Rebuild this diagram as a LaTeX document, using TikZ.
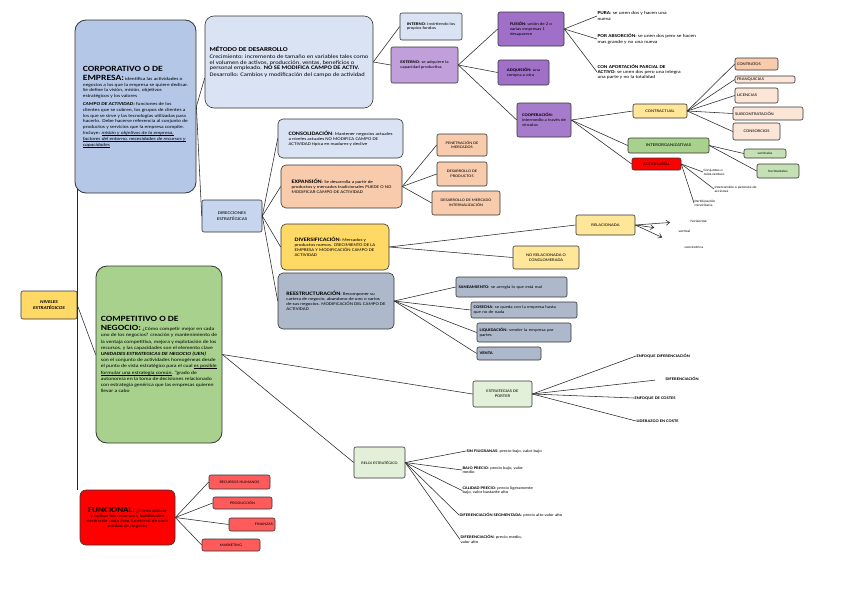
\documentclass[tikz,border=0pt]{standalone}
\usepackage{fontspec}
\setmainfont{Carlito}[FakeStretch=1.2]
\usetikzlibrary{arrows.meta,calc}
\definecolor{cBlue}{HTML}{B4C7E7}
\definecolor{cBlueL}{HTML}{DAE3F3}
\definecolor{cBlueM}{HTML}{C7D5EE}
\definecolor{cPurL}{HTML}{C19FDB}
\definecolor{cPur}{HTML}{A070C8}
\definecolor{cPurM}{HTML}{A77BCC}
\definecolor{cGold}{HTML}{FFD966}
\definecolor{cYel}{HTML}{FFE699}
\definecolor{cPeach}{HTML}{F8CBAD}
\definecolor{cPeachL}{HTML}{FBE5D6}
\definecolor{cGreen}{HTML}{A9D18E}
\definecolor{cGreenL}{HTML}{C5E0B4}
\definecolor{cGreenXL}{HTML}{E2F0D9}
\definecolor{cGray}{HTML}{ADB9CA}
\definecolor{cRed}{HTML}{FF0000}
\definecolor{cRedL}{HTML}{FF5B5B}
\newcommand\fz[2]{\fontsize{#1}{#2}\selectfont}
\newcommand\bighd[1]{{\fz{8}{9}\bfseries #1}}
\newcommand\ulx[1]{\setbox0=\hbox{#1}\rlap{\rule[-0.8pt]{\wd0}{0.35pt}}\box0}
\newcommand\mkbox[7]{%
  \node[bx,#6,minimum width={(#4-#2)*1pt},minimum height={(#5-#3)*1pt}] (#1) at ({(#2+#4)/2},{(#3+#5)/2}) {#7};}
\tikzset{
  bx/.style={draw=black!80, line width=0.6pt, rounded corners=2pt, inner sep=1pt, align=left, font=\fz{4}{4.8}},
  big/.style={rounded corners=11pt, line width=0.8pt},
  ln/.style={draw=black!85, line width=0.55pt},
  lbl/.style={anchor=west, inner sep=0.3pt, align=left, font=\fz{4}{4.8}},
  arr/.style={ln, -{Straight Barb[length=3.5pt,width=5pt]}},
}
\begin{document}
\begin{tikzpicture}[x=1pt,y=-1pt]
\useasboundingbox (0,0) rectangle (848,600);
\fill[white] (0,0) rectangle (848,600);

% ---------- level boxes ----------
\mkbox{niv}{21}{291}{77}{319}{fill=cGold, align=center, font=\fz{4.4}{5.4}\bfseries\itshape}{NIVELES\\ESTRATÉGICOS}

\mkbox{corp}{75}{20}{196}{193}{big, fill=cBlue, font=\fz{4.5}{5.8}}{%
\bighd{CORPORATIVO O DE}\\[3.2pt]
\bighd{EMPRESA:} identifica las actividades o\\
negocios a los que la empresa se quiere dedicar.\\
Se define la visión, misión, objetivos\\
estratégicos y los valores\\[2pt]
\textbf{\textit{CAMPO DE ACTIVIDAD:}} funciones de los\\
clientes que se cubren, los grupos de clientes a\\
los que se sirve y las tecnologías utilizadas para\\
hacerlo. Debe hacerse referencia al conjunto de\\
productos y servicios que la empresa compite.\\
Incluye: \ulx{\textit{misión y objetivos de la empresa,}}\\
\ulx{\textit{factores del entorno, necesidades de recursos y}}\\
\ulx{\textit{capacidades}}}

\mkbox{comp}{96}{266}{222}{443}{big, fill=cGreen, font=\fz{4.7}{6.2}}{%
\bighd{COMPETITIVO O DE}\\[3pt]
\bighd{NEGOCIO:} ¿Cómo competir mejor en cada\\
uno de los negocios? creación y mantenimiento de\\
la ventaja competitiva, mejora y explotación de los\\
recursos, y las capacidades son el elemento clave\\
\textbf{\textit{UNIDADES ESTRATEGICAS DE NEGOCIO (UEN)}}\\
son el conjunto de actividades homogéneas desde\\
el punto de vista estratégico para el cual \ulx{es posible}\\
\ulx{formular una estrategia común}. "grado de\\
autonomía en la toma de decisiones relacionado\\
con estrategia genérica que las empresas quieren\\
llevar a cabo}

\mkbox{fun}{80}{490}{175}{545}{rounded corners=6pt, fill=cRed, align=center, font=\fz{4.4}{5}}{%
{\fz{7.5}{8}\bfseries FUNCIONAL:} ¿Cómo utilizar\\
y aplicar los recursos y habilidades\\
dentro de cada área funcional de cada\\
unidad de negocio}

% ---------- corporate branch ----------
\mkbox{met}{205}{16}{373}{108}{rounded corners=9pt, fill=cBlueL, font=\fz{5.4}{5.9}}{%
{\fz{6}{8}\bfseries MÉTODO DE DESARROLLO}\\[1pt]
Crecimiento: incremento de tamaño en variables tales como\\
el volumen de activos, producción, ventas, beneficios o\\
personal empleado. \textbf{NO SE MODIFICA CAMPO DE ACTIV.}\\[1pt]
Desarrollo: Cambios y modificación del campo de actividad}

\mkbox{int}{400}{13}{462}{40}{fill=cBlueL}{\textbf{INTERNO}: invirtiendo los\\propios fondos}
\mkbox{ext}{391}{47}{458}{83}{fill=cPurL}{\textbf{EXTERNO}: se adquiere la\\capacidad productiva}
\mkbox{fus}{498}{12}{564}{46}{fill=cPur}{\textbf{FUSIÓN}: unión de 2 o\\varias empresas 1\\desaparece}
\mkbox{adq}{498}{60}{549}{85}{fill=cPur}{\textbf{ADQUISIÓN}: una\\compra a otra}
\mkbox{coop}{517}{103}{571}{137}{fill=cPurM}{\textbf{COOPERACIÓN}:\\intermedio a través de\\vínculos}

\node[lbl, font=\fz{4.5}{5.2}] (pura) at (597,16) {\textbf{PURA}: se unen dos y hacen una\\nueva};
\node[lbl, font=\fz{4.5}{5.2}] (abs) at (597,39) {\textbf{POR ABSORCIÓN}: se unen dos pero se hacen\\mas grande y no una nueva};
\node[lbl, font=\fz{4.5}{5.4}] (apo) at (597,72) {\textbf{CON APORTACIÓN PARCIAL DE}\\\textbf{ACTIVO}: se unen dos pero una integra\\una parte y no la totalidad};

\mkbox{ctr}{633}{104}{687}{118}{fill=cYel, align=center}{CONTRACTUAL}
\mkbox{cont}{735}{58}{778}{70}{fill=cPeach, text width=39pt}{CONTRATOS}
\mkbox{fran}{735}{76}{795}{83}{fill=cPeachL, text width=56pt, inner ysep=0pt}{FRANQUICIAS}
\mkbox{lic}{735}{88}{778}{103}{fill=cPeachL, text width=39pt}{LICENCIAS}
\mkbox{sub}{733}{107}{803}{120}{fill=cPeachL, text width=66pt}{SUBCONTRATACIÓN}
\mkbox{cons}{733}{123}{780}{140}{fill=cPeachL, align=center}{CONSORCIOS}

\mkbox{inter}{628}{138}{709}{153}{fill=cGreen, align=center, font=\fz{4.2}{5}}{INTERORGANIZATIVAS}
\mkbox{acc}{632}{158}{681}{170}{fill=cRed, align=center}{ACCIONARIAL}
\mkbox{vert}{744}{149}{786}{158}{fill=cGreenL, align=center, font=\fz{3.2}{4}}{verticales}
\mkbox{hori}{757}{164}{799}{178}{fill=cGreenL, align=center, font=\fz{3.2}{4}}{horizontales}
\node[lbl, font=\fz{3.3}{4.2}] (jv) at (703,172) {Conjuntos o\\Joint-venture};
\node[lbl, font=\fz{3.3}{4.2}] (perm) at (714,189) {Intercambio o permuta de\\acciones};
\node[lbl, font=\fz{3.3}{4.2}] (mino) at (694,203) {Participación\\minoritaria};

% ---------- strategic directions ----------
\mkbox{dir}{202}{200}{262}{232}{fill=cBlueM, align=center, font=\fz{4.3}{5.3}}{DIRECCIONES\\ESTRATÉGICAS}
\mkbox{conso}{278}{119}{403}{158}{rounded corners=5pt, fill=cBlueL, font=\fz{4.2}{5}}{%
{\fz{5.2}{6}\bfseries CONSOLIDACIÓN}: Mantener negocios actuales\\
a niveles actuales NO MODIFICA CAMPO DE\\
ACTIVIDAD típica en madurez y declive}
\mkbox{exp}{281}{165}{402}{208}{rounded corners=5pt, fill=cPeach, font=\fz{4.2}{5}}{%
{\fz{5.2}{6}\bfseries EXPANSIÓN}: Se desarrolla a partir de\\
productos y mercados tradicionales PUEDE O NO\\
MODIFICAR CAMPO DE ACTIVIDAD}
\mkbox{pen}{437}{134}{487}{156}{fill=cPeach, align=center, font=\fz{3.8}{4.8}}{PENETRACIÓN DE\\MERCADOS}
\mkbox{dprod}{437}{162}{487}{186}{fill=cPeach, align=center, font=\fz{3.8}{4.8}}{DESARROLLO DE\\PRODUCTOS}
\mkbox{dmer}{432}{191}{500}{215}{fill=cPeach, align=center, font=\fz{3.8}{4.8}}{DESARROLLO DE MERCADO\\INTERNALIZACIÓN}

\mkbox{div}{281}{224}{389}{270}{rounded corners=5pt, fill=cGold, font=\fz{4.2}{5}}{%
{\fz{5.2}{6}\bfseries DIVERSIFICACIÓN}: Mercados y\\
productos nuevos. CRECIMIENTO DE LA\\
EMPRESA Y MODIFICACIÓN CAMPO DE\\
ACTIVIDAD}
\mkbox{rel}{576}{215}{635}{235}{fill=cYel, align=center}{RELACIONADA}
\mkbox{norel}{513}{246}{579}{269}{fill=cYel, align=center}{NO RELACIONADA O\\CONGLOMERADA}
\node[lbl, font=\fz{3.3}{4}] (rhor) at (690,221) {horizontal};
\node[lbl, font=\fz{3.3}{4}] (rver) at (678,231) {vertical};
\node[lbl, font=\fz{3.3}{4}] (rcon) at (684,247.5) {concéntrica};

\mkbox{res}{278}{273}{394}{329}{rounded corners=5pt, fill=cGray, font=\fz{4.2}{5}}{%
{\fz{5.2}{6}\bfseries REESTRUCTURACIÓN}: Recomponer su\\
cartera de negocio, abandono de uno o varios\\
de sus negocios. MODIFICACIÓN DEL CAMPO DE\\
ACTIVIDAD}
\mkbox{san}{456}{277}{567}{297}{fill=cGray, text width=106pt}{\textbf{SANEAMIENTO}: se arregla lo que está mal}
\mkbox{cos}{471}{302}{577}{318}{fill=cGray, text width=101pt}{\textbf{COSECHA}: se queda con la empresa hasta\\que no de nada}
\mkbox{liq}{477}{323}{571}{342}{fill=cGray, text width=89pt}{\textbf{LIQUIDACIÓN}: vender la empresa por\\partes}
\mkbox{ven}{477}{347}{541}{360}{fill=cGray, text width=59pt}{\textbf{VENTA}}

% ---------- competitive branch ----------
\mkbox{por}{473}{381}{532}{407}{fill=cGreenXL, align=center}{ESTRATEGIAS DE\\PORTER}
\node[lbl, font=\fz{3.9}{4.6}\bfseries] (p1) at (636,356) {ENFOQUE DIFERENCIACIÓN};
\node[lbl, font=\fz{3.9}{4.6}\bfseries] (p2) at (665,379) {DIFERENCIACIÓN};
\node[lbl, font=\fz{3.9}{4.6}\bfseries] (p3) at (634,398) {ENFOQUE DE COSTES};
\node[lbl, font=\fz{3.9}{4.6}\bfseries] (p4) at (636,421) {LIDERAZGO EN COSTE};

\mkbox{reloj}{354}{447}{405}{478}{fill=cGreenXL, align=center, font=\fz{3.7}{4.5}}{RELOJ ESTRATÉGICO}
\node[lbl, font=\fz{3.9}{4.7}] (r1) at (466,451) {\textbf{SIN FILIGRANAS}: precio bajo, valor bajo};
\node[lbl, font=\fz{3.9}{4.7}] (r2) at (462,470) {\textbf{BAJO PRECIO}: precio bajo, valor\\medio};
\node[lbl, font=\fz{3.9}{4.7}] (r3) at (462,490.5) {\textbf{CALIDAD PRECIO}: precio ligeramente\\bajo, valor bastante alto};
\node[lbl, font=\fz{3.9}{4.7}] (r4) at (459,515) {\textbf{DIFERENCIACIÓN SEGMENTADA}: precio alto valor alto};
\node[lbl, font=\fz{3.9}{4.7}] (r5) at (460,539.5) {\textbf{DIFERENCIACIÓN}: precio medio,\\valor alto};

% ---------- functional branch ----------
\mkbox{rrhh}{209}{475}{270}{489}{fill=cRedL, align=center, font=\fz{3.7}{4.5}}{RECURSOS HUMANOS}
\mkbox{prod}{213}{497}{272}{509}{fill=cRedL, align=center, font=\fz{3.7}{4.5}}{PRODUCCIÓN}
\mkbox{fin}{229}{518}{275}{531}{fill=cRedL, text width=42pt, align=right, font=\fz{3.7}{4.5}}{FINANZAS}
\mkbox{mkt}{202}{539}{260}{551}{fill=cRedL, align=center, font=\fz{3.7}{4.5}}{MARKETING}

% ---------- connectors ----------
\draw[ln] (niv.east) -- (comp.west);
\draw[ln] (niv.east) -- ($(niv.east |- corp.south)+(0,-4)$);
\draw[ln] (niv.east) -- (niv.east |- fun.north);
\draw[ln] (corp.east) -- ([yshift=-16pt]met.west);
\draw[ln] (corp.east) -- (dir.west);
\draw[ln] (met.east) -- (int.west);
\draw[ln] (met.east) -- (ext.west);
\foreach \t in {fus,adq,coop} \draw[ln] (ext.east) -- (\t.west);
\foreach \t in {pura,abs,apo} \draw[ln] (fus.east) -- (\t.west);
\foreach \t in {ctr,inter,acc} \draw[ln] (coop.east) -- (\t.west);
\foreach \t in {cont,fran,lic,sub,cons} \draw[ln] (ctr.east) -- (\t.west);
\foreach \t in {vert,hori} \draw[ln] (inter.east) -- (\t.west);
\foreach \t in {jv,perm,mino} \draw[ln] (acc.east) -- (\t.west);
\foreach \t in {conso,exp,div,res} \draw[ln] (dir.east) -- (\t.west);
\foreach \t in {pen,dprod,dmer} \draw[ln] (exp.east) -- (\t.west);
\foreach \t in {rel,norel} \draw[ln] (div.east) -- (\t.west);
\draw[arr, shorten >=20pt] (rel.east) -- (rhor.west);
\draw[arr, shorten >=24pt] (rel.east) -- (rver.west);
\draw[arr, shorten >=24pt] (rel.east) -- (rcon.west);
\foreach \t in {san,cos,liq,ven} \draw[ln] (res.east) -- (\t.west);
\draw[ln] (comp.east) -- (por.west);
\draw[ln] (comp.east) -- (reloj.west);
\foreach \t in {p1,p3,p4} \draw[ln] (por.east) -- (\t.west);
\draw[ln, shorten >=10pt] (por.east) -- (p2.west);
\foreach \t in {r1,r2,r3,r4,r5} \draw[ln] (reloj.east) -- (\t.west);
\foreach \t in {rrhh,prod,fin,mkt} \draw[ln] (fun.east) -- (\t.west);
\end{tikzpicture}
\end{document}
